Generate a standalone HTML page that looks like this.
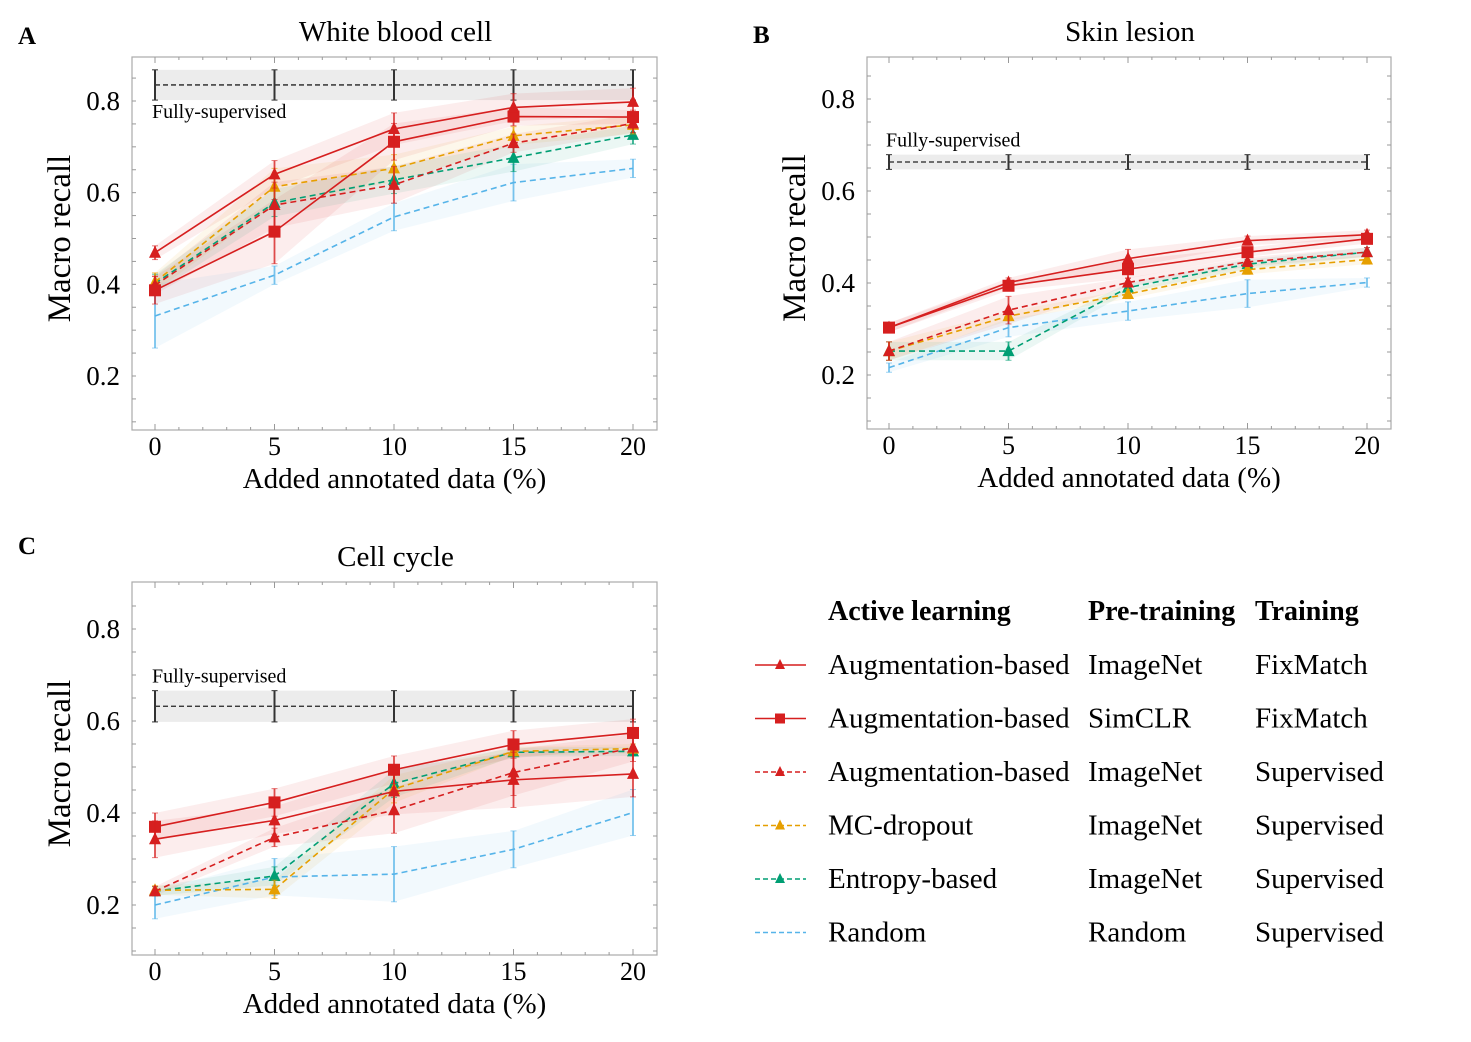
<!DOCTYPE html>
<html><head><meta charset="utf-8"><style>
body{margin:0;background:#fff;}
svg{display:block;font-family:"Liberation Serif",serif;}
</style></head><body>
<svg id="fig" width="1471" height="1042" viewBox="0 0 1471 1042"></svg>
<script>
const xCats=[0,5,10,15,20];
const yTicks=[0.2,0.4,0.6,0.8];
const seriesNames=["aug-imagenet-fixmatch","aug-simclr-fixmatch","aug-imagenet-supervised","mc-dropout","entropy-based","random"];
const seriesColors=["#d61f1f","#d61f1f","#d61f1f","#e69f00","#009e73","#56b4e9"];
const seriesDash=[null,null,"6,4","6,4","6,4","6,4"];
const seriesMarker=["tri","sq","tri","tri","tri","none"];
// Panel A: White blood cell
const aVals=[[0.469,0.640,0.739,0.786,0.798],[0.387,0.515,0.711,0.766,0.765],[0.398,0.573,0.617,0.708,0.751],[0.405,0.613,0.653,0.724,0.748],[0.402,0.578,0.628,0.676,0.726],[0.331,0.420,0.547,0.622,0.653]];
const aErr=[[0.015,0.03,0.035,0.03,0.03],[0.03,0.07,0.04,0.02,0.015],[0.02,0.05,0.04,0.02,0.02],[0.02,0.04,0.03,0.02,0.02],[0.02,0.03,0.03,0.03,0.02],[0.07,0.02,0.03,0.04,0.02]];
const aFull=0.835, aFullErr=0.033;
// Panel B: Skin lesion
const bVals=[[0.303,0.401,0.453,0.492,0.505],[0.303,0.394,0.430,0.467,0.496],[0.252,0.341,0.401,0.446,0.467],[0.252,0.328,0.376,0.429,0.451],[0.252,0.252,0.390,0.441,0.467],[0.216,0.303,0.339,0.377,0.401]];
const bErr=[[0.01,0.01,0.02,0.01,0.01],[0.01,0.01,0.02,0.01,0.01],[0.02,0.03,0.01,0.01,0.01],[0.02,0.01,0.01,0.01,0.01],[0.02,0.02,0.01,0.01,0.01],[0.01,0.02,0.02,0.03,0.01]];
const bFull=0.663, bFullErr=0.016;
// Panel C: Cell cycle
const cVals=[[0.343,0.384,0.447,0.472,0.485],[0.370,0.423,0.494,0.549,0.574],[0.230,0.347,0.406,0.488,0.542],[0.232,0.234,0.452,0.534,0.540],[0.230,0.263,0.464,0.532,0.534],[0.200,0.261,0.267,0.321,0.401]];
const cErr=[[0.04,0.03,0.05,0.06,0.05],[0.03,0.03,0.03,0.03,0.03],[0.01,0.02,0.05,0.05,0.03],[0.01,0.02,0.03,0.01,0.01],[0.01,0.02,0.03,0.01,0.01],[0.03,0.04,0.06,0.04,0.05]];
const cFull=0.632, cFullErr=0.034;

const NS="http://www.w3.org/2000/svg";
const svg=document.getElementById("fig");
function mk(tag,attrs,parent){const e=document.createElementNS(NS,tag);for(const k in attrs)e.setAttribute(k,attrs[k]);(parent||svg).appendChild(e);return e;}
function txt(s,attrs,parent){const e=mk("text",attrs,parent);e.textContent=s;return e;}

function panel(id,letter,letterY,title,box,vals,errs,full,fullErr,fullLabelAbove){
  const g=mk("g",{});
  
  
  const {L,R,T,B,x0,x20,y08,y02}=box;
  const sx=v=>x0+(v-0)*(x20-x0)/20;
  const sy=v=>y02+(v-0.2)*(y08-y02)/0.6;
  const fr=mk("rect",{x:L,y:T,width:R-L,height:B-T,fill:"none",stroke:"#aaa","stroke-width":1.2},g);
  
  
  for(let v=0;v<=20;v+=1){const X=sx(v);const len=v%5==0?6:3;
    mk("line",{x1:X,y1:B,x2:X,y2:B-len,stroke:"#999"},g);mk("line",{x1:X,y1:T,x2:X,y2:T+len,stroke:"#999"},g);}
  for(let v=0.1;v<=0.9;v+=0.05){const Y=sy(v);if(Y<T||Y>B)continue;
    mk("line",{x1:L,y1:Y,x2:L+4,y2:Y,stroke:"#999"},g);mk("line",{x1:R,y1:Y,x2:R-4,y2:Y,stroke:"#999"},g);}
  xCats.forEach(c=>{const t=txt(String(c),{x:sx(c),y:B+25,"font-size":26,"text-anchor":"middle"},g);
    });
  yTicks.forEach(v=>{const t=txt(v.toFixed(1),{x:L-12,y:sy(v)+9,"font-size":27,"text-anchor":"end"},g);
    });
  const xt=txt("Added annotated data (%)",{x:(L+R)/2,y:B+58,"font-size":29,"text-anchor":"middle"},g);
  
  const ym=(T+B)/2-5;
  const yt=txt("Macro recall",{x:L-62,y:ym,"font-size":33,"text-anchor":"middle",transform:`rotate(-90 ${L-62} ${ym})`},g);
  
  const tt=txt(title,{x:(L+R)/2+1,y:T-16,"font-size":29,"text-anchor":"middle"},g);
  
  const lt=txt(letter,{x:L-114,y:letterY,"font-size":25,"font-weight":"bold"},g);
  
  const fy=sy(full),fe=Math.abs(sy(full+fullErr)-sy(full));
  mk("rect",{x:sx(0),y:fy-fe,width:sx(20)-sx(0),height:2*fe,fill:"#ececec"},g);
  const fl=mk("line",{x1:sx(0),y1:fy,x2:sx(20),y2:fy,stroke:"#222","stroke-width":1.3,"stroke-dasharray":"5,3"},g);
  
  xCats.forEach(c=>{const X=sx(c);mk("line",{x1:X,y1:fy-fe,x2:X,y2:fy+fe,stroke:"#333","stroke-width":2},g);
    mk("line",{x1:X-3,y1:fy-fe,x2:X+3,y2:fy-fe,stroke:"#333"},g);mk("line",{x1:X-3,y1:fy+fe,x2:X+3,y2:fy+fe,stroke:"#333"},g);});
  const fly=fullLabelAbove?fy-fe-8:fy+fe+18;
  const ft=txt("Fully-supervised",{x:sx(0)-3,y:fly,"font-size":20},g);
  
  vals.forEach((s,i)=>{const e=errs[i];
    let d="";s.forEach((v,j)=>{d+=(j?"L":"M")+sx(xCats[j])+","+sy(v+e[j]);});
    for(let j=s.length-1;j>=0;j--)d+="L"+sx(xCats[j])+","+sy(s[j]-e[j]);
    const b=mk("path",{d:d+"Z",fill:seriesColors[i],"fill-opacity":0.08},g);
    });
  const order=[5,4,3,2,1,0];
  order.forEach(i=>{const s=vals[i],e=errs[i],col=seriesColors[i];
    const sg=mk("g",{},g);
    
    
    s.forEach((v,j)=>{const X=sx(xCats[j]);
      mk("line",{x1:X,y1:sy(v+e[j]),x2:X,y2:sy(v-e[j]),stroke:col,"stroke-width":1.8,"stroke-opacity":0.8},sg);
      mk("line",{x1:X-3,y1:sy(v+e[j]),x2:X+3,y2:sy(v+e[j]),stroke:col,"stroke-opacity":0.6},sg);
      mk("line",{x1:X-3,y1:sy(v-e[j]),x2:X+3,y2:sy(v-e[j]),stroke:col,"stroke-opacity":0.6},sg);});
    const pts=s.map((v,j)=>sx(xCats[j])+","+sy(v)).join(" ");
    const a={points:pts,fill:"none",stroke:col,"stroke-width":1.6};
    if(seriesDash[i])a["stroke-dasharray"]=seriesDash[i];
    mk("polyline",a,sg);
    s.forEach((v,j)=>{const X=sx(xCats[j]),Y=sy(v);let m=null;
      if(seriesMarker[i]=="tri")m=mk("polygon",{points:`${X},${Y-7} ${X-6},${Y+5} ${X+6},${Y+5}`,fill:col},sg);
      else if(seriesMarker[i]=="sq")m=mk("rect",{x:X-6,y:Y-6,width:12,height:12,fill:col},sg);
      if(m){}});
  });
}
panel("white-blood-cell","A",44,"White blood cell",{L:132,R:657,T:57,B:430,x0:155,x20:633,y08:101,y02:376},aVals,aErr,aFull,aFullErr,false);
panel("skin-lesion","B",43,"Skin lesion",{L:867,R:1391,T:57,B:429,x0:889,x20:1367,y08:99,y02:375},bVals,bErr,bFull,bFullErr,true);
panel("cell-cycle","C",554,"Cell cycle",{L:132,R:657,T:582,B:955,x0:155,x20:633,y08:629,y02:905},cVals,cErr,cFull,cFullErr,true);

const lg=mk("g",{});


const legActive=["Augmentation-based","Augmentation-based","Augmentation-based","MC-dropout","Entropy-based","Random"];
const legPre=["ImageNet","SimCLR","ImageNet","ImageNet","ImageNet","Random"];
const legTrain=["FixMatch","FixMatch","Supervised","Supervised","Supervised","Supervised"];
[["Active learning",828],["Pre-training",1088],["Training",1255]].forEach(h=>{
  const t=txt(h[0],{x:h[1],y:620,"font-size":28,"font-weight":"bold"},lg);
  });
legActive.forEach((a,i)=>{const y=665+i*53.5;
  const e=mk("g",{},lg);
  
  
  const la={x1:755,y1:y,x2:806,y2:y,stroke:seriesColors[i],"stroke-width":1.6};
  if(seriesDash[i])la["stroke-dasharray"]="5,3";
  mk("line",la,e);
  const X=780;
  if(seriesMarker[i]=="tri")mk("polygon",{points:`${X},${y-6} ${X-5},${y+4} ${X+5},${y+4}`,fill:seriesColors[i]},e);
  else if(seriesMarker[i]=="sq")mk("rect",{x:X-5,y:y-5,width:10,height:10,fill:seriesColors[i]},e);
  txt(a,{x:828,y:y+9,"font-size":29},e);
  txt(legPre[i],{x:1088,y:y+9,"font-size":29},e);
  txt(legTrain[i],{x:1255,y:y+9,"font-size":29},e);
});
</script>
</body></html>
